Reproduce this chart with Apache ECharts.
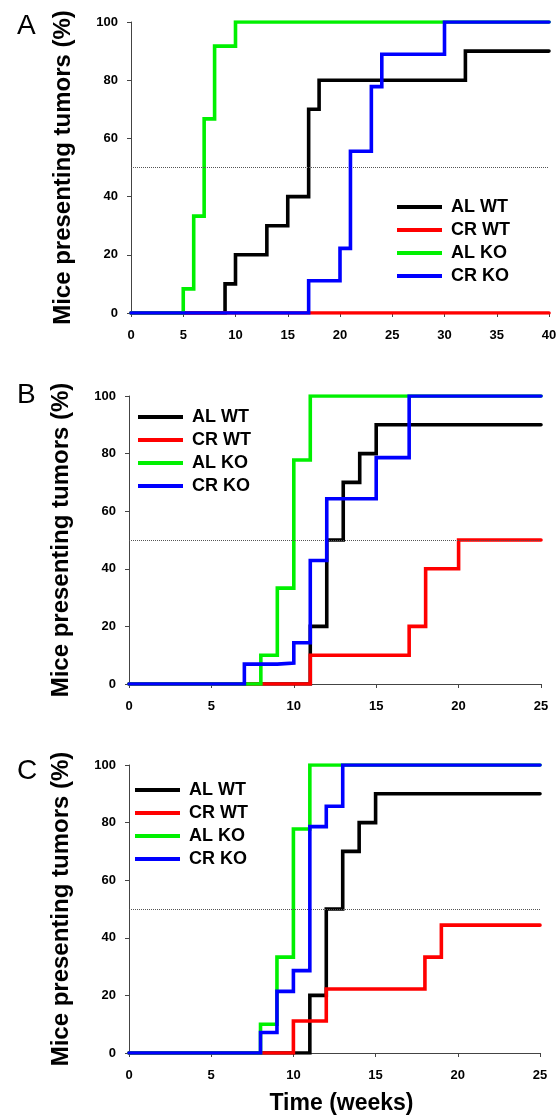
<!DOCTYPE html>
<html>
<head>
<meta charset="utf-8">
<script src="https://cdn.jsdelivr.net/npm/echarts@6/dist/echarts.min.js"></script>
<style>
  html, body { margin: 0; padding: 0; background: #fff; }
  #main { width: 559px; height: 1115px; }
</style>
</head>
<body>
<div id="main"></div>
<script>
// series names / colours
var names = ['AL WT', 'CR WT', 'AL KO', 'CR KO'];
var colors = ['#000000', '#ff0000', '#00f000', '#0000ff'];
var yTicks = [0, 20, 40, 60, 80, 100];

// panel A : weeks / % with tumor (step after each week)
var weeksA_alWT = [0, 9, 10, 13, 15, 17, 18, 32, 40];
var pctA_alWT   = [0, 10, 20, 30, 40, 70, 80, 90, 90];
var weeksA_crWT = [0, 40];
var pctA_crWT   = [0, 0];
var weeksA_alKO = [0, 5, 6, 7, 8, 10, 40];
var pctA_alKO   = [0, 8.3, 33.3, 66.7, 91.7, 100, 100];
var weeksA_crKO = [0, 17, 20, 21, 23, 24, 30, 40];
var pctA_crKO   = [0, 11.1, 22.2, 55.6, 77.8, 88.9, 100, 100];

// panel B
var weeksB_alWT = [0, 11, 12, 13, 14, 15, 25];
var pctB_alWT   = [0, 20, 50, 70, 80, 90, 90];
var weeksB_crWT = [0, 11, 17, 18, 20, 25];
var pctB_crWT   = [0, 10, 20, 40, 50, 50];
var weeksB_alKO = [0, 8, 9, 10, 11, 25];
var pctB_alKO   = [0, 10, 33.3, 77.8, 100, 100];
var weeksB_crKO = [0, 7, 9, 10, 11, 12, 15, 17, 25];
var pctB_crKO   = [0, 6.9, 7.3, 14.3, 42.9, 64.3, 78.6, 100, 100];

// panel C
var weeksC_alWT = [0, 11, 12, 13, 14, 15, 25];
var pctC_alWT   = [0, 20, 50, 70, 80, 90, 90];
var weeksC_crWT = [0, 10, 12, 18, 19, 25];
var pctC_crWT   = [0, 11.1, 22.2, 33.3, 44.4, 44.4];
var weeksC_alKO = [0, 8, 9, 10, 11, 25];
var pctC_alKO   = [0, 10, 33.3, 77.8, 100, 100];
var weeksC_crKO = [0, 8, 9, 10, 11, 12, 13, 25];
var pctC_crKO   = [0, 7.1, 21.4, 28.6, 78.6, 85.7, 100, 100];

var font = "'Liberation Sans', Arial, Helvetica, sans-serif";

function pairs(xs, ys) {
    var out = [];
    for (var i = 0; i < xs.length; i++) {
        out.push([xs[i], ys[i]]);
    }
    return out;
}

var panels = [
    { letter: 'A', xmax: 40, grid: {left: 131, top: 22, width: 418, height: 291},
      legend: {left: 397, top: 198},
      data: [[weeksA_alWT, pctA_alWT], [weeksA_crWT, pctA_crWT], [weeksA_alKO, pctA_alKO], [weeksA_crKO, pctA_crKO]] },
    { letter: 'B', xmax: 25, grid: {left: 129, top: 396, width: 412, height: 288},
      legend: {left: 138, top: 408},
      data: [[weeksB_alWT, pctB_alWT], [weeksB_crWT, pctB_crWT], [weeksB_alKO, pctB_alKO], [weeksB_crKO, pctB_crKO]] },
    { letter: 'C', xmax: 25, grid: {left: 129, top: 765, width: 411, height: 288},
      legend: {left: 135, top: 781},
      data: [[weeksC_alWT, pctC_alWT], [weeksC_crWT, pctC_crWT], [weeksC_alKO, pctC_alKO], [weeksC_crKO, pctC_crKO]] }
];

var option = {
    animation: false,
    backgroundColor: '#fff',
    textStyle: {fontFamily: font},
    title: [], grid: [], xAxis: [], yAxis: [], legend: [], series: []
};

var letterTops = [7, 376, 752];

for (var p = 0; p < panels.length; p++) {
    var pn = panels[p];
    option.title.push({
        text: pn.letter, left: 12, top: letterTops[p],
        textStyle: {fontFamily: font, fontSize: 28, fontWeight: 'normal', color: '#000'}
    });
    var g = pn.grid;
    option.grid.push({left: g.left, top: g.top, width: g.width, height: g.height,
                      containLabel: false, outerBoundsMode: 'none'});
    option.xAxis.push({
        type: 'value', gridIndex: p, min: 0, max: pn.xmax, interval: 5,
        name: p == 2 ? 'Time (weeks)' : '',
        nameLocation: 'middle', nameGap: 39,
        nameTextStyle: {fontFamily: font, fontSize: 23, fontWeight: 'bold', color: '#000', padding: [0, 0, 0, 14]},
        axisLine: {show: true, onZero: false, lineStyle: {color: '#444', width: 1}},
        axisTick: {show: true, length: 4, lineStyle: {color: '#444'}},
        axisLabel: {margin: 16, fontFamily: font, fontSize: 13, fontWeight: 'bold', color: '#000'},
        splitLine: {show: false}
    });
    option.yAxis.push({
        type: 'value', gridIndex: p, min: 0, max: 100, interval: 20,
        name: 'Mice presenting tumors (%)',
        nameLocation: 'middle', nameGap: 56, nameRotate: 90,
        nameTextStyle: {fontFamily: font, fontSize: 24, fontWeight: 'bold', color: '#000'},
        axisLine: {show: true, lineStyle: {color: '#444', width: 1}},
        axisTick: {show: true, length: 4, lineStyle: {color: '#444'}},
        axisLabel: {
            margin: 13, fontFamily: font, fontSize: 13, fontWeight: 'bold', color: '#000',
            formatter: function (v) { return yTicks.indexOf(v) >= 0 ? String(v) : ''; }
        },
        splitLine: {show: false}
    });
    option.legend.push({
        orient: 'vertical', left: pn.legend.left, top: pn.legend.top, padding: 0,
        data: names, icon: 'rect', itemWidth: 45, itemHeight: 4, itemGap: 5,
        selectedMode: false,
        textStyle: {fontFamily: font, fontSize: 18, fontWeight: 'bold', color: '#000', padding: [0, 0, 0, 4]}
    });
    for (var s = 0; s < 4; s++) {
        var ser = {
            name: names[s], type: 'line', step: 'end',
            xAxisIndex: p, yAxisIndex: p,
            data: pairs(pn.data[s][0], pn.data[s][1]),
            symbol: 'none', z: 2 + s,
            itemStyle: {color: colors[s]},
            lineStyle: {color: colors[s], width: 3.6, join: 'miter', cap: 'round'}
        };
        if (s == 0) {
            ser.markLine = {
                silent: true, symbol: 'none', label: {show: false},
                lineStyle: {type: 'dotted', color: '#555', width: 1},
                data: [{yAxis: 50}]
            };
        }
        option.series.push(ser);
    }
}

var myChart = echarts.init(document.getElementById('main'), null, {renderer: 'canvas'});
myChart.setOption(option);
</script>
</body>
</html>
